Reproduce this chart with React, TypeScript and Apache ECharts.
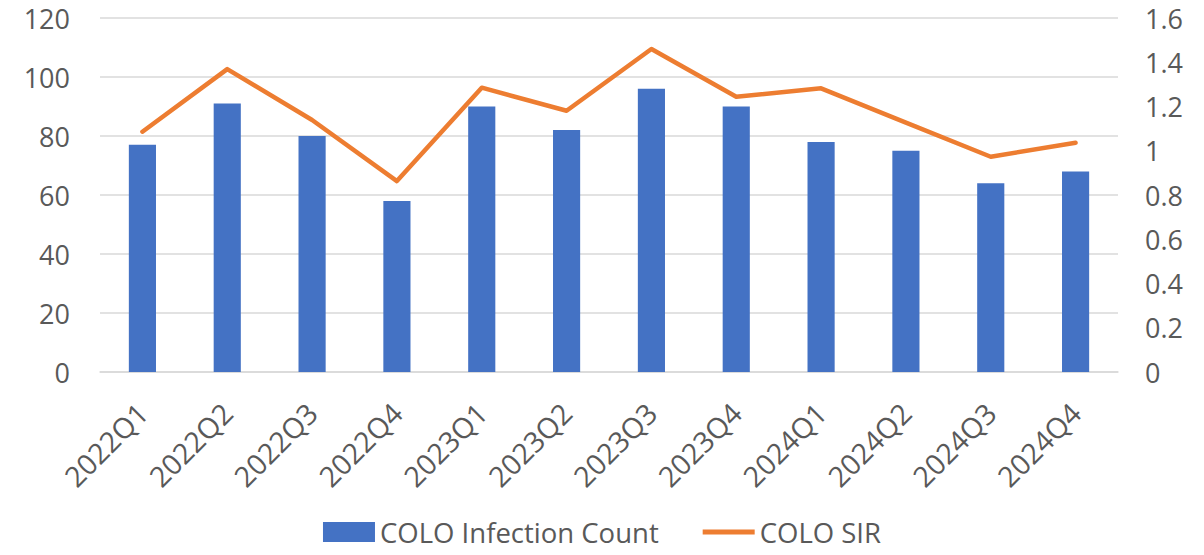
import React, { useEffect, useRef } from "react";
import * as echarts from "echarts";

const categories = ["2022Q1", "2022Q2", "2022Q3", "2022Q4", "2023Q1", "2023Q2", "2023Q3", "2023Q4", "2024Q1", "2024Q2", "2024Q3", "2024Q4"];
const infectionCount = [77, 91, 80, 58, 90, 82, 96, 90, 78, 75, 64, 68];
const sir = [1.086, 1.369, 1.139, 0.863, 1.285, 1.181, 1.46, 1.244, 1.282, 1.127, 0.973, 1.036];
const leftTicks = { min: 0, max: 120, interval: 20 };
const rightTicks = { min: 0, max: 1.6, interval: 0.2 };

const FONT = "'Open Sans', sans-serif";
const GREY = "#595959";

export default function App() {
  const ref = useRef<HTMLDivElement>(null);
  useEffect(() => {
    if (!ref.current) return;
    const chart = echarts.init(ref.current, undefined, { renderer: "svg" });
    chart.setOption({
      animation: false,
      textStyle: { fontFamily: FONT },
      grid: { left: 100, right: 86, top: 18, bottom: 183, containLabel: false },
      legend: {
        bottom: 4,
        left: "center",
        itemWidth: 52,
        itemHeight: 20,
        itemGap: 44,
        textStyle: { fontSize: 27.5, color: GREY, fontFamily: FONT },
        data: [
          { name: "COLO Infection Count", icon: "rect" },
          { name: "COLO SIR", icon: "path://M0,0 L50,0 L50,5 L0,5 Z" },
        ],
      },
      xAxis: {
        type: "category",
        data: categories,
        axisLine: { lineStyle: { color: "#d9d9d9", width: 1.5 } },
        axisTick: { show: false },
        axisLabel: { rotate: 45, fontSize: 28.5, color: GREY, margin: 36, fontFamily: FONT },
      },
      yAxis: [
        {
          type: "value",
          ...leftTicks,
          axisLine: { show: false },
          axisTick: { show: false },
          splitLine: { lineStyle: { color: "#d9d9d9", width: 1.5 } },
          axisLabel: { fontSize: 27, color: GREY, margin: 30, fontFamily: FONT },
        },
        {
          type: "value",
          ...rightTicks,
          axisLine: { show: false },
          axisTick: { show: false },
          splitLine: { show: false },
          axisLabel: {
            fontSize: 27,
            color: GREY,
            margin: 27,
            fontFamily: FONT,
            formatter: (v: number) => String(Math.round(v * 10) / 10),
          },
        },
      ],
      series: [
        {
          name: "COLO Infection Count",
          type: "bar",
          data: infectionCount,
          yAxisIndex: 0,
          barWidth: "32%",
          itemStyle: { color: "#4472C4" },
        },
        {
          name: "COLO SIR",
          type: "line",
          data: sir,
          yAxisIndex: 1,
          symbol: "none",
          lineStyle: { color: "#ED7D31", width: 4.5, cap: "round", join: "round" },
          itemStyle: { color: "#ED7D31" },
        },
      ],
    });
    return () => chart.dispose();
  }, []);
  return <div ref={ref} style={{ position: "absolute", left: 0, top: 0, width: 1204, height: 555 }} />;
}
